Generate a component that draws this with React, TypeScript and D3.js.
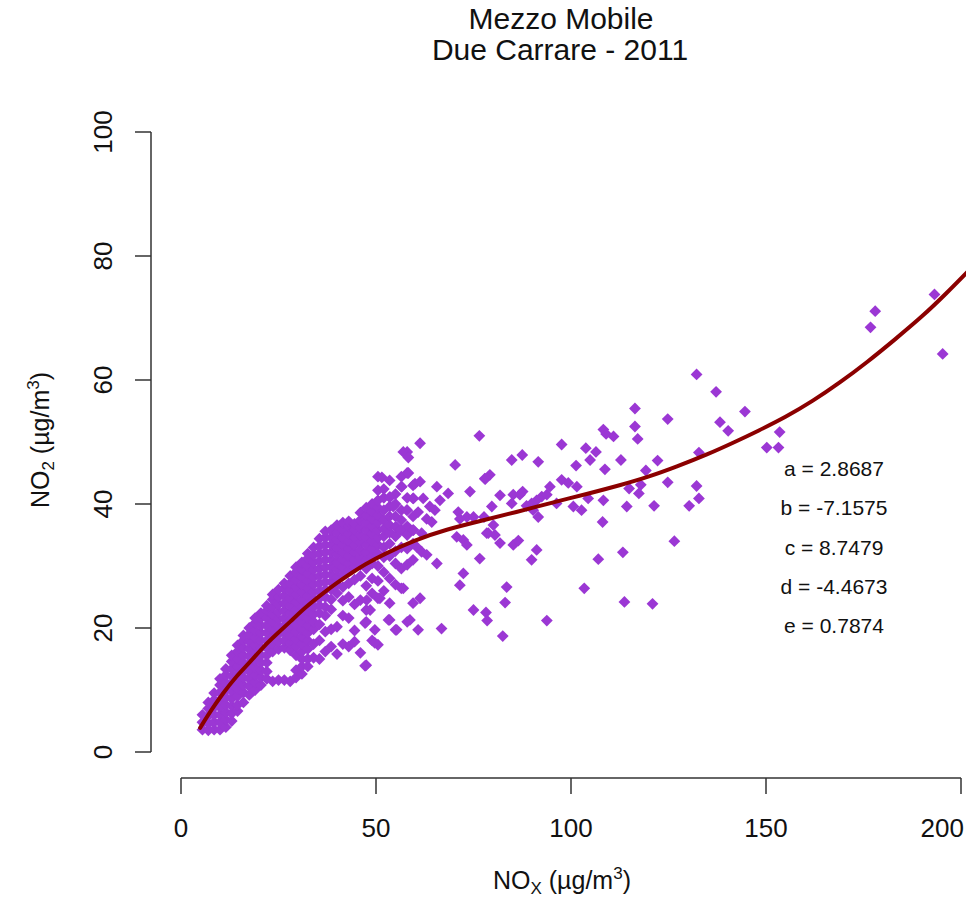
import React from 'react';
import * as d3 from 'd3';

const titleLines = ['Mezzo Mobile', 'Due Carrare - 2011'];
const xTicks = [0, 50, 100, 150, 200];
const yTicks = [0, 20, 40, 60, 80, 100];
const coefLabels = ['a = 2.8687', 'b = -7.1575', 'c = 8.7479', 'd = -4.4673', 'e = 0.7874'];

// fitted curve (NOx, NO2)
const fitCurve: [number, number][] = [
  [4.9, 3.9], [8, 7.0], [10.8, 9.5], [14, 12.1], [17.7, 14.5], [21, 16.9], [24.5, 19.0],
  [28, 21.0], [32, 23.4], [36, 25.4], [40, 27.3], [44, 29.0], [47, 30.2], [52, 31.9],
  [60, 34.2], [68, 35.9], [77, 37.3], [86, 38.7], [95, 40.2], [104, 41.6], [113, 43.1],
  [120, 44.4], [127, 46.0], [135, 48.0], [142, 50.0], [148, 51.8], [155, 54.0],
  [162, 56.6], [169, 59.6], [176, 62.9], [183, 66.5], [190, 70.2], [196, 73.8], [203, 78.3],
];

// dense band: NOx column -> NO2 values
const denseColumns: [number, number[]][] = [
  [5.5, [3.6, 4.8, 6.0]],
  [7.0, [3.5, 4.6, 5.8, 7.0, 8.0]],
  [8.5, [3.6, 4.8, 6.0, 7.2, 8.4, 9.5]],
  [10.0, [3.6, 4.8, 6.0, 7.2, 8.4, 9.6, 10.8, 11.8]],
  [11.5, [4.0, 5.2, 6.4, 7.6, 8.8, 10.0, 11.2, 12.4, 13.4]],
  [13.0, [5.0, 6.2, 7.4, 8.6, 9.8, 11.0, 12.2, 13.4, 14.6, 15.6]],
  [14.5, [6.6, 7.6, 9.0, 10.2, 11.4, 12.6, 13.8, 15.0, 16.2, 17.2]],
  [16.0, [8.0, 9.6, 10.8, 12.0, 13.2, 14.4, 15.6, 16.8, 18.0, 18.8]],
  [17.5, [9.2, 10.6, 11.8, 13.0, 14.2, 15.4, 16.6, 17.8, 19.0, 20.0]],
  [19.0, [10.0, 11.2, 12.4, 13.6, 14.8, 16.0, 17.2, 18.4, 19.6, 20.8, 21.6]],
  [20.5, [10.8, 12.0, 13.2, 14.4, 15.6, 16.8, 18.0, 19.2, 20.4, 21.6, 22.4]],
  [22.0, [11.8, 13.0, 14.4, 15.6, 16.8, 18.0, 19.2, 20.4, 21.6, 22.8, 23.6]],
  [23.5, [11.4, 16.2, 17.4, 18.6, 19.8, 21.0, 22.2, 23.4, 24.6, 25.4]],
  [25.0, [11.6, 16.6, 17.8, 19.0, 20.2, 21.4, 22.6, 23.8, 25.0, 26.2]],
  [26.5, [11.6, 16.8, 18.0, 19.2, 20.4, 21.6, 22.8, 24.0, 25.2, 26.4, 27.2]],
  [28.0, [11.4, 16.4, 17.6, 18.8, 20.0, 21.2, 22.4, 23.6, 24.8, 26.0, 27.2, 28.4]],
  [29.5, [12.0, 13.2, 15.6, 17.0, 18.2, 19.4, 20.6, 21.8, 23.0, 24.2, 25.4, 26.6, 27.8, 29.0, 29.8]],
  [31.0, [12.6, 13.8, 15.0, 16.2, 17.4, 18.6, 19.8, 21.0, 22.2, 23.4, 24.6, 25.8, 27.0, 28.2, 29.4, 30.6]],
  [32.5, [13.8, 15.0, 16.6, 18.0, 19.2, 20.4, 21.6, 22.8, 24.0, 25.2, 26.4, 27.6, 28.8, 30.0, 31.2, 32.0]],
  [34.0, [15.2, 17.4, 19.8, 21.0, 22.2, 23.4, 24.6, 25.8, 27.0, 28.2, 29.4, 30.6, 31.8, 33.0]],
  [35.5, [15.0, 18.0, 20.6, 22.4, 23.6, 24.8, 26.0, 27.2, 28.4, 29.6, 30.8, 32.0, 33.2, 34.4]],
  [37.0, [16.2, 19.4, 22.0, 23.4, 25.0, 26.2, 27.4, 28.6, 29.8, 31.0, 32.2, 33.4, 34.6, 35.6]],
  [38.5, [17.0, 19.8, 23.0, 24.6, 26.2, 27.4, 28.6, 29.8, 31.0, 32.2, 33.4, 34.6, 35.8]],
  [40.0, [15.8, 20.2, 25.6, 27.0, 28.2, 29.4, 30.6, 31.8, 33.0, 34.2, 35.4, 36.6]],
  [41.5, [17.4, 22.0, 24.4, 26.6, 28.6, 29.8, 31.0, 32.2, 33.4, 34.6, 35.8, 37.0]],
  [43.0, [17.0, 21.6, 25.0, 27.2, 29.2, 30.4, 31.6, 32.8, 34.0, 35.2, 36.4, 37.2]],
  [44.5, [17.8, 19.6, 23.8, 27.8, 29.8, 31.0, 32.2, 33.4, 34.6, 35.8, 36.8]],
  [46.0, [16.0, 24.5, 28.4, 30.2, 31.4, 32.6, 33.8, 35.0, 36.2, 37.4, 38.6]],
  [47.5, [14.0, 21.0, 22.9, 26.8, 29.6, 31.0, 32.2, 33.4, 34.6, 35.8, 37.0, 38.2, 39.4]],
  [49.0, [18.0, 25.6, 28.0, 30.4, 31.6, 32.8, 34.0, 35.2, 36.4, 37.6, 38.8, 40.0]],
  [50.5, [17.3, 24.8, 27.6, 30.0, 32.0, 33.4, 34.6, 35.8, 37.0, 38.2, 39.4, 40.6, 42.2, 44.4]],
  [52.0, [26.0, 29.0, 31.4, 33.0, 34.8, 36.0, 37.4, 39.0, 41.0, 42.4]],
  [53.5, [21.3, 24.0, 28.0, 31.6, 33.6, 35.4, 36.6, 38.0, 39.6, 41.1, 43.8]],
  [55.0, [19.7, 27.0, 30.4, 32.4, 34.8, 36.3, 38.0, 40.0, 41.6]],
  [56.5, [26.4, 29.6, 33.0, 35.8, 37.4, 39.0, 42.8, 44.4]],
  [58.0, [21.0, 30.2, 32.8, 35.0, 36.4, 39.0, 41.0, 45.0, 48.4]],
  [59.5, [24.0, 31.0, 33.6, 35.8, 38.0, 40.9, 43.0]],
];

// scattered points (NOx, NO2)
const scatterPoints: [number, number][] = [
  [61.3, 49.8], [57.0, 48.4], [58.3, 47.5], [70.3, 46.3], [51.5, 44.3], [58.3, 45.0], [60, 43.3],
  [61.3, 43.6], [56.6, 42.8], [65.6, 42.8], [68.5, 41.7], [74.1, 42.0], [77.9, 44.1], [53.6, 41.1],
  [54.4, 39.6], [59.6, 40.9], [62.1, 40.9], [63.8, 39.6], [65.1, 39.0], [66.4, 40.6], [57.9, 39.0],
  [60.8, 38.7], [71.1, 38.7], [71.5, 37.6], [73.3, 37.9], [75, 37.9], [63, 37.6], [64.3, 37.1],
  [55.3, 36.3], [56.2, 35.8], [59.6, 35.8], [61.7, 35.3], [70.7, 34.7], [72.4, 34.2], [73.3, 33.4],
  [78.4, 35.3], [60.4, 33.1], [61.7, 32.3], [63, 31.8], [65.6, 30.4], [76.6, 31.2], [72.4, 28.8],
  [71.5, 26.9], [57, 26.4], [61.3, 24.8], [75, 22.9], [47.6, 24.5], [51, 24.8], [48.5, 22.9],
  [53.2, 21.3], [55.3, 19.7], [58.7, 21.3], [60.8, 19.7], [66.8, 19.9], [47.2, 20.8], [49.7, 19.7],
  [49.7, 17.6], [47.2, 13.9],
  [76.5, 51.0], [108.3, 52.0], [109.0, 51.3], [110.9, 50.9], [97.6, 49.6], [103.8, 49.0],
  [106.4, 48.4], [104.9, 47.1], [112.8, 47.1], [108.7, 45.6], [101.3, 46.2], [84.8, 47.1],
  [87.5, 47.9], [91.6, 46.8], [78, 44.0], [79.2, 44.7], [97.6, 43.9], [99.3, 43.4], [101.5, 42.8],
  [94.6, 42.8], [81.8, 41.4], [85.2, 41.5], [86.9, 41.5], [87.6, 42.0], [84.8, 40.1], [88.6, 39.7],
  [89.9, 40.1], [91.2, 40.6], [92.5, 41.2], [93.8, 41.5], [90.3, 39.0], [91.6, 37.9], [100.6, 39.6],
  [102.7, 39.0], [104.4, 40.9], [108.3, 40.6], [114.3, 39.6], [96.3, 40.1], [79.7, 39.6],
  [77.7, 37.9], [80.1, 36.6], [78.8, 35.3], [80.5, 35.0], [81.8, 33.7], [85.2, 33.4], [86.5, 34.1],
  [91.2, 32.6], [89.9, 31.0], [108.1, 37.1], [107.0, 31.1], [113.3, 32.2], [83.5, 26.6],
  [83.1, 24.1], [103.4, 26.4], [113.7, 24.2], [78.2, 22.5], [78.5, 21.2], [93.8, 21.2], [82.5, 18.7],
  [132.2, 60.9], [137.2, 58.1], [116.4, 55.4], [124.8, 53.7], [144.6, 54.9], [116.4, 52.5],
  [138.2, 53.2], [140.3, 51.8], [117.1, 50.5], [132.8, 48.3], [122.2, 47.0], [119.2, 45.4],
  [150.2, 49.1], [153.2, 49.1], [153.5, 51.6], [114.9, 42.5], [117.9, 43.1], [117.4, 41.7],
  [124.8, 43.5], [132.2, 42.9], [132.8, 40.9], [130.3, 39.7], [121.3, 39.7], [126.5, 34.0],
  [120.9, 23.9],
  [178, 71.1], [176.8, 68.5], [193.2, 73.8], [195.3, 64.2],
];

const W = 966;
const H = 899;
const PURPLE = '#9B37D4';
const FONT = '"Liberation Sans", Arial, Helvetica, sans-serif';

export default function App() {
  const x = d3.scaleLinear().domain([0, 200]).range([181, 961]);
  const y = d3.scaleLinear().domain([0, 100]).range([752, 132]);
  const axisY = 778;
  const axisX = 151;
  const tick = 16;

  const allPoints: [number, number][] = [];
  denseColumns.forEach(([nx, ys]) => ys.forEach((v) => allPoints.push([nx, v])));
  scatterPoints.forEach((p) => allPoints.push(p));

  const line = d3
    .line<[number, number]>()
    .x((d) => x(d[0]))
    .y((d) => y(d[1]))
    .curve(d3.curveBasis);

  const r = 5.9;
  const diamond = `M0,${-r}L${r},0L0,${r}L${-r},0Z`;

  return (
    <svg
      width={W}
      height={H}
      viewBox={`0 0 ${W} ${H}`}
      style={{ position: 'absolute', left: 0, top: 0, background: '#fff' }}
      fontFamily={FONT}
    >
      <rect x={0} y={0} width={W} height={H} fill="#fff" />
      {/* title */}
      <text x={561} y={29} textAnchor="middle" fontSize={30} fill="#111">
        {titleLines[0]}
      </text>
      <text x={560} y={60} textAnchor="middle" fontSize={30} fill="#111">
        {titleLines[1]}
      </text>

      {/* points */}
      <g fill={PURPLE}>
        {allPoints.map((p, i) => (
          <path key={i} d={diamond} transform={`translate(${x(p[0])},${y(p[1])})`} />
        ))}
      </g>

      {/* fit curve */}
      <path d={line(fitCurve) || ''} fill="none" stroke="#8B0000" strokeWidth={4} strokeLinecap="round" />

      {/* axes */}
      <g stroke="#333" strokeWidth={1.5} fill="none">
        <line x1={x(0)} x2={x(200)} y1={axisY} y2={axisY} />
        {xTicks.map((t) => (
          <line key={t} x1={x(t)} x2={x(t)} y1={axisY} y2={axisY + tick} />
        ))}
        <line x1={axisX} x2={axisX} y1={y(0)} y2={y(100)} />
        {yTicks.map((t) => (
          <line key={t} x1={axisX} x2={axisX - tick} y1={y(t)} y2={y(t)} />
        ))}
      </g>
      <g fontSize={26} fill="#111">
        {xTicks.map((t, i) => {
          const last = i === xTicks.length - 1;
          return (
            <text key={t} x={last ? 964 : x(t)} y={837} textAnchor={last ? 'end' : 'middle'}>
              {t}
            </text>
          );
        })}
        {yTicks.map((t) => (
          <text key={t} transform={`translate(112,${y(t)}) rotate(-90)`} textAnchor="middle">
            {t}
          </text>
        ))}
      </g>

      {/* axis titles */}
      <text x={562} y={889} textAnchor="middle" fontSize={25} fill="#111">
        NO<tspan fontSize={17} dy={5}>X</tspan>
        <tspan dy={-5}> (µg/m</tspan>
        <tspan fontSize={17} dy={-10}>3</tspan>
        <tspan dy={10}>)</tspan>
      </text>
      <text transform={`translate(49,440) rotate(-90)`} textAnchor="middle" fontSize={25} fill="#111">
        NO<tspan fontSize={17} dy={5}>2</tspan>
        <tspan dy={-5}> (µg/m</tspan>
        <tspan fontSize={17} dy={-10}>3</tspan>
        <tspan dy={10}>)</tspan>
      </text>

      {/* coefficient labels */}
      <g fontSize={21} fill="#111" textAnchor="middle">
        {coefLabels.map((s, i) => (
          <text key={s} x={834} y={476 + i * 39.3}>
            {s}
          </text>
        ))}
      </g>
    </svg>
  );
}
